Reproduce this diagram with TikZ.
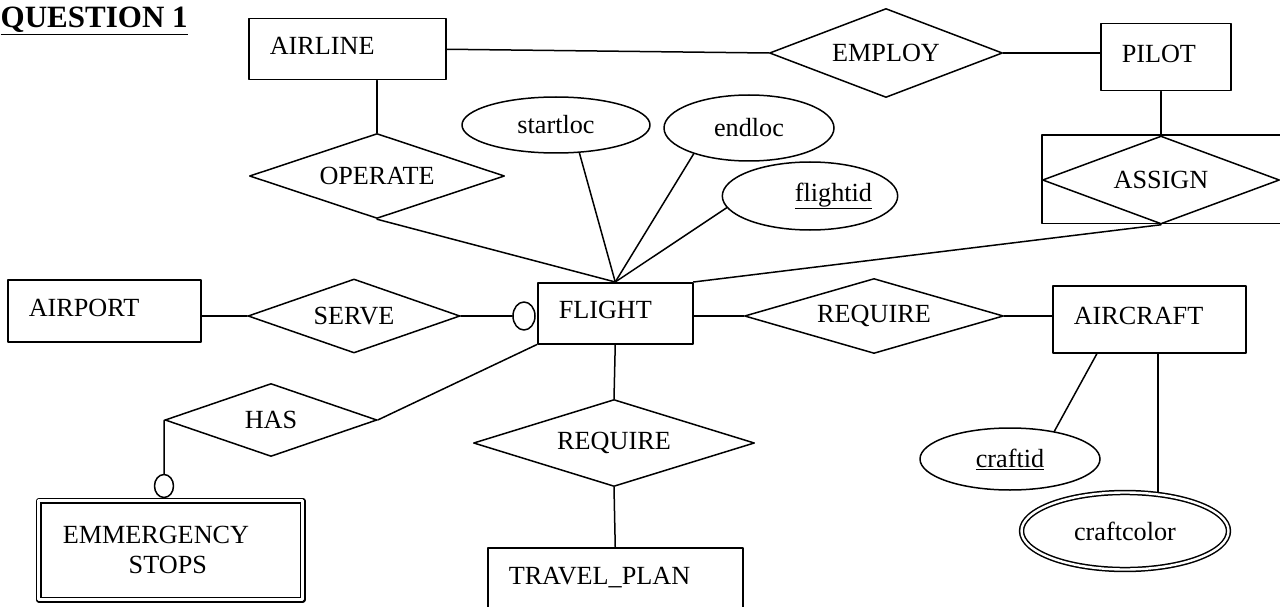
\documentclass[tikz,border=0pt]{standalone}
\usepackage{fontspec}
\setmainfont{Liberation Serif}
\usetikzlibrary{shapes.geometric}

\tikzset{
  entity/.style={draw, rectangle, anchor=north west, align=left,
    inner xsep=21pt, inner ysep=0pt, text depth=6pt},
  weakentity/.style={draw, rectangle, anchor=north west, align=left,
    double, double distance=2.6pt, inner xsep=24pt, inner ysep=0pt},
  rel/.style={draw, diamond, aspect=3, inner sep=0pt},
  attr/.style={draw, ellipse, inner sep=0pt},
  multiattr/.style={attr, double, double distance=2.4pt},
  optmark/.style={draw, ellipse, inner sep=0pt},
}

\begin{document}
\begin{tikzpicture}[x=1pt, y=-1pt, line width=1.5pt, line cap=round, line join=round,
  font=\fontsize{26.2}{30}\selectfont]

  \useasboundingbox (0,0) rectangle (1280,607);

  % ===== タイトル =====
  \node[anchor=base west, inner sep=0pt, font=\bfseries\fontsize{31}{33}\selectfont]
  (title) at (0,28) {\underline{QUESTION 1}};

  % ===== 実体 =====
  \node[entity, text width=155pt, minimum height=61pt] (airline) at (248,18) {AIRLINE};
  \node[entity, text width=88pt, minimum height=67pt] (pilot) at (1100,23) {PILOT};
  \node[entity, text width=151pt, minimum height=62pt] (airport) at (7,279) {AIRPORT};
  \node[entity, text width=113pt, minimum height=61pt] (flight) at (537,282) {FLIGHT};
  \node[entity, text width=151pt, minimum height=67pt] (aircraft) at (1052,285) {AIRCRAFT};
  \node[entity, text width=213pt, minimum height=63pt] (travelplan) at (487,547) {TRAVEL\_PLAN};
  \node[weakentity, text width=216pt, minimum height=99pt] (emergency) at (38,500)
  {EMMERGENCY\\\hspace*{66pt}STOPS};

  % ===== 関連 =====
  \node[rel, minimum width=233pt, minimum height=89pt] (employ) at (886,53) {EMPLOY};
  \node[rel, minimum width=255pt, minimum height=85pt] (operate) at (377,176) {OPERATE};
  \node[rel, minimum width=237pt, minimum height=88pt] (assign) at (1161,180) {ASSIGN};
  \node[rel, minimum width=212pt, minimum height=74pt] (serve) at (354,316) {SERVE};
  \node[rel, minimum width=212pt, minimum height=73pt] (has) at (271,420) {HAS};
  \node[rel, minimum width=259pt, minimum height=75pt] (reqcraft) at (874,316) {REQUIRE};
  \node[rel, minimum width=281pt, minimum height=87pt] (reqplan) at (614,443) {REQUIRE};

  \draw (assign.west |- assign.north) rectangle ++(245,88);

  % ===== 属性 =====
  \node[attr, minimum width=188pt, minimum height=56pt] (startloc) at (556,125) {startloc};
  \node[attr, minimum width=170pt, minimum height=66pt] (endloc) at (749,128) {endloc};
  \node[attr, text width=124pt, align=right, minimum width=164pt, minimum height=68pt]
  (flightid) at (810,196) {\underline{flightid}};
  \node[attr, minimum width=180pt, minimum height=62pt] (craftid) at (1010,459) {\underline{craftid}};
  \node[multiattr, minimum width=207pt, minimum height=77pt] (craftcolor) at (1125,531) {craftcolor};

  % ===== 任意参加の印 =====
  \node[optmark, minimum width=22pt, minimum height=28pt] (optserve) at (524,316) {};
  \node[optmark, minimum width=19pt, minimum height=23pt] (opthas) at (164,486) {};

  % ===== 接続線 =====
  \draw (airline.east) -- (employ.west);
  \draw (employ.east) -- (employ.east -| pilot.west);
  \draw (assign.north) -- (assign.north |- pilot.south);
  \draw (operate.north) -- (operate.north |- airline.south);
  \draw (operate.south) -- (flight.north);
  \draw (startloc.-50) -- (flight.north);
  \draw (endloc.-155) -- (flight.north);
  \draw (flightid.188) -- (flight.north);
  \draw (assign.south) -- (flight.north east);
  \draw (serve.west) -- (serve.west -| airport.east);
  \draw (serve.east) -- (optserve.west);
  \draw (has.east) -- (flight.south west);
  \draw (has.west) -- (opthas.north);
  \draw (flight.south) -- (reqplan.north);
  \draw (reqplan.south) -- (travelplan.north);
  \draw (reqcraft.west) -- (reqcraft.west -| flight.east);
  \draw (reqcraft.east) -- (reqcraft.east -| aircraft.west);
  \draw ([xshift=45pt]aircraft.south west) -- (craftid.32);
  \draw ([xshift=106pt]aircraft.south west) -- ([xshift=33pt]craftcolor.north);

\end{tikzpicture}
\end{document}
